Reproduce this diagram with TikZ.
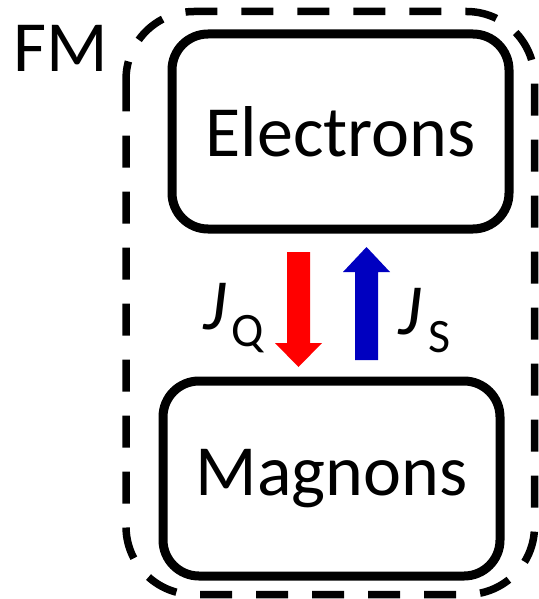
\documentclass[tikz,border=0pt]{standalone}
\usepackage{fontspec}
\setmainfont{Carlito}
\begin{document}
\begin{tikzpicture}[x=1pt,y=-1pt,
  box/.style={draw=black,line width=9pt,rounded corners=36pt,inner sep=0pt,
    minimum width=337pt,minimum height=195pt,font=\fontsize{72}{72}\selectfont},
  outer/.style={draw=black,line width=7.5pt,dash pattern=on 32pt off 24pt,rounded corners=68pt},
  lbl/.style={inner sep=0pt,anchor=base west,font=\fontsize{72}{72}\selectfont},
  sub/.style={inner sep=0pt,anchor=base west,font=\fontsize{48}{48}\selectfont}]
\useasboundingbox (0,0) rectangle (538,599);
\definecolor{myblue}{RGB}{0,0,192}
\draw[outer] (126,11.5) rectangle (534.5,594.5);
\node[lbl] (fm) at (13,72) {FM};
\node[box] (el) at (340.5,131.5) {Electrons};
\node[box] (mag) at (331.5,478.5) {Magnons};
% red arrow (down)
\fill[red] (287,252) -- (310,252) -- (310,343) -- (322,343) -- (298.5,367) -- (275,343) -- (287,343) -- cycle;
% blue arrow (up)
\fill[myblue] (355,360) -- (378,360) -- (378,272) -- (390,272) -- (366.5,247) -- (343,272) -- (355,272) -- cycle;
\node[lbl] (jq) at (203,329) {\itshape J};
\node[sub] (q) at (231,346) {Q};
\node[lbl] (js) at (398,334) {\itshape J};
\node[sub] (s) at (428,352) {S};
\end{tikzpicture}
\end{document}
